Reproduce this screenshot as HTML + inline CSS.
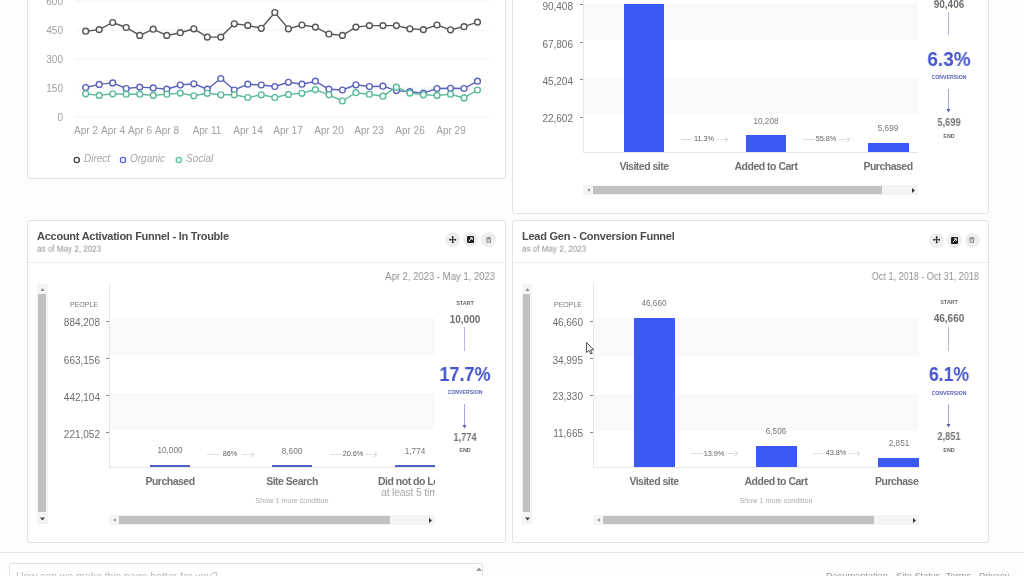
<!DOCTYPE html>
<html><head><meta charset="utf-8"><style>
html,body{margin:0;padding:0;width:1024px;height:576px;overflow:hidden;background:#fdfdfd;font-family:"Liberation Sans", sans-serif;}
.r{position:absolute;}
.t{position:absolute;white-space:nowrap;line-height:1;will-change:transform;}
</style></head><body>
<div class="r" style="left:27px;top:-20px;width:479px;height:199px;border:1px solid #e2e2e2;border-radius:3px;background:#fff;box-sizing:border-box"></div><div class="r" style="left:512px;top:-20px;width:477px;height:234px;border:1px solid #e2e2e2;border-radius:3px;background:#fff;box-sizing:border-box"></div><div class="r" style="left:27px;top:220px;width:479px;height:323px;border:1px solid #e2e2e2;border-radius:3px;background:#fff;box-sizing:border-box"></div><div class="r" style="left:512px;top:220px;width:477px;height:323px;border:1px solid #e2e2e2;border-radius:3px;background:#fff;box-sizing:border-box"></div><svg class="r" style="left:0;top:0" width="1024" height="576"><line x1="76" y1="1" x2="490" y2="1" stroke="#e2e2e2" stroke-width="1" stroke-dasharray="1.3,1.7"/><line x1="76" y1="30" x2="490" y2="30" stroke="#e2e2e2" stroke-width="1" stroke-dasharray="1.3,1.7"/><line x1="76" y1="59" x2="490" y2="59" stroke="#e2e2e2" stroke-width="1" stroke-dasharray="1.3,1.7"/><line x1="76" y1="88" x2="490" y2="88" stroke="#e2e2e2" stroke-width="1" stroke-dasharray="1.3,1.7"/><line x1="76" y1="117" x2="490" y2="117" stroke="#e2e2e2" stroke-width="1" stroke-dasharray="1.3,1.7"/><polyline points="85.7,87.5 99.2,84.4 112.7,82.9 126.2,88.5 139.7,87.1 153.2,87.9 166.8,89.2 180.3,85.0 193.8,83.8 207.3,89.2 220.8,78.5 234.3,90.0 247.8,84.2 261.3,85.0 274.8,86.5 288.4,82.3 301.9,84.2 315.4,81.2 328.9,89.2 342.4,90.0 355.9,84.8 369.4,86.5 382.9,86.2 396.4,90.6 409.9,91.7 423.4,93.1 437.0,88.5 450.5,88.3 464.0,88.5 477.5,81.2" fill="none" stroke="#5c63bd" stroke-width="1.4"/><circle cx="85.7" cy="87.5" r="2.9" fill="#fff" stroke="#5c63bd" stroke-width="1.4"/><circle cx="99.2" cy="84.4" r="2.9" fill="#fff" stroke="#5c63bd" stroke-width="1.4"/><circle cx="112.7" cy="82.9" r="2.9" fill="#fff" stroke="#5c63bd" stroke-width="1.4"/><circle cx="126.2" cy="88.5" r="2.9" fill="#fff" stroke="#5c63bd" stroke-width="1.4"/><circle cx="139.7" cy="87.1" r="2.9" fill="#fff" stroke="#5c63bd" stroke-width="1.4"/><circle cx="153.2" cy="87.9" r="2.9" fill="#fff" stroke="#5c63bd" stroke-width="1.4"/><circle cx="166.8" cy="89.2" r="2.9" fill="#fff" stroke="#5c63bd" stroke-width="1.4"/><circle cx="180.3" cy="85.0" r="2.9" fill="#fff" stroke="#5c63bd" stroke-width="1.4"/><circle cx="193.8" cy="83.8" r="2.9" fill="#fff" stroke="#5c63bd" stroke-width="1.4"/><circle cx="207.3" cy="89.2" r="2.9" fill="#fff" stroke="#5c63bd" stroke-width="1.4"/><circle cx="220.8" cy="78.5" r="2.9" fill="#fff" stroke="#5c63bd" stroke-width="1.4"/><circle cx="234.3" cy="90.0" r="2.9" fill="#fff" stroke="#5c63bd" stroke-width="1.4"/><circle cx="247.8" cy="84.2" r="2.9" fill="#fff" stroke="#5c63bd" stroke-width="1.4"/><circle cx="261.3" cy="85.0" r="2.9" fill="#fff" stroke="#5c63bd" stroke-width="1.4"/><circle cx="274.8" cy="86.5" r="2.9" fill="#fff" stroke="#5c63bd" stroke-width="1.4"/><circle cx="288.4" cy="82.3" r="2.9" fill="#fff" stroke="#5c63bd" stroke-width="1.4"/><circle cx="301.9" cy="84.2" r="2.9" fill="#fff" stroke="#5c63bd" stroke-width="1.4"/><circle cx="315.4" cy="81.2" r="2.9" fill="#fff" stroke="#5c63bd" stroke-width="1.4"/><circle cx="328.9" cy="89.2" r="2.9" fill="#fff" stroke="#5c63bd" stroke-width="1.4"/><circle cx="342.4" cy="90.0" r="2.9" fill="#fff" stroke="#5c63bd" stroke-width="1.4"/><circle cx="355.9" cy="84.8" r="2.9" fill="#fff" stroke="#5c63bd" stroke-width="1.4"/><circle cx="369.4" cy="86.5" r="2.9" fill="#fff" stroke="#5c63bd" stroke-width="1.4"/><circle cx="382.9" cy="86.2" r="2.9" fill="#fff" stroke="#5c63bd" stroke-width="1.4"/><circle cx="396.4" cy="90.6" r="2.9" fill="#fff" stroke="#5c63bd" stroke-width="1.4"/><circle cx="409.9" cy="91.7" r="2.9" fill="#fff" stroke="#5c63bd" stroke-width="1.4"/><circle cx="423.4" cy="93.1" r="2.9" fill="#fff" stroke="#5c63bd" stroke-width="1.4"/><circle cx="437.0" cy="88.5" r="2.9" fill="#fff" stroke="#5c63bd" stroke-width="1.4"/><circle cx="450.5" cy="88.3" r="2.9" fill="#fff" stroke="#5c63bd" stroke-width="1.4"/><circle cx="464.0" cy="88.5" r="2.9" fill="#fff" stroke="#5c63bd" stroke-width="1.4"/><circle cx="477.5" cy="81.2" r="2.9" fill="#fff" stroke="#5c63bd" stroke-width="1.4"/><polyline points="85.7,93.8 99.2,95.4 112.7,93.8 126.2,94.2 139.7,94.2 153.2,95.4 166.8,94.2 180.3,93.1 193.8,95.8 207.3,93.3 220.8,94.8 234.3,94.8 247.8,97.5 261.3,94.8 274.8,97.5 288.4,94.4 301.9,93.3 315.4,89.6 328.9,94.8 342.4,101.0 355.9,92.7 369.4,94.2 382.9,96.2 396.4,87.1 409.9,93.1 423.4,94.8 437.0,95.4 450.5,94.2 464.0,97.9 477.5,90.0" fill="none" stroke="#5bbb9c" stroke-width="1.4"/><circle cx="85.7" cy="93.8" r="2.9" fill="#fff" stroke="#5bbb9c" stroke-width="1.4"/><circle cx="99.2" cy="95.4" r="2.9" fill="#fff" stroke="#5bbb9c" stroke-width="1.4"/><circle cx="112.7" cy="93.8" r="2.9" fill="#fff" stroke="#5bbb9c" stroke-width="1.4"/><circle cx="126.2" cy="94.2" r="2.9" fill="#fff" stroke="#5bbb9c" stroke-width="1.4"/><circle cx="139.7" cy="94.2" r="2.9" fill="#fff" stroke="#5bbb9c" stroke-width="1.4"/><circle cx="153.2" cy="95.4" r="2.9" fill="#fff" stroke="#5bbb9c" stroke-width="1.4"/><circle cx="166.8" cy="94.2" r="2.9" fill="#fff" stroke="#5bbb9c" stroke-width="1.4"/><circle cx="180.3" cy="93.1" r="2.9" fill="#fff" stroke="#5bbb9c" stroke-width="1.4"/><circle cx="193.8" cy="95.8" r="2.9" fill="#fff" stroke="#5bbb9c" stroke-width="1.4"/><circle cx="207.3" cy="93.3" r="2.9" fill="#fff" stroke="#5bbb9c" stroke-width="1.4"/><circle cx="220.8" cy="94.8" r="2.9" fill="#fff" stroke="#5bbb9c" stroke-width="1.4"/><circle cx="234.3" cy="94.8" r="2.9" fill="#fff" stroke="#5bbb9c" stroke-width="1.4"/><circle cx="247.8" cy="97.5" r="2.9" fill="#fff" stroke="#5bbb9c" stroke-width="1.4"/><circle cx="261.3" cy="94.8" r="2.9" fill="#fff" stroke="#5bbb9c" stroke-width="1.4"/><circle cx="274.8" cy="97.5" r="2.9" fill="#fff" stroke="#5bbb9c" stroke-width="1.4"/><circle cx="288.4" cy="94.4" r="2.9" fill="#fff" stroke="#5bbb9c" stroke-width="1.4"/><circle cx="301.9" cy="93.3" r="2.9" fill="#fff" stroke="#5bbb9c" stroke-width="1.4"/><circle cx="315.4" cy="89.6" r="2.9" fill="#fff" stroke="#5bbb9c" stroke-width="1.4"/><circle cx="328.9" cy="94.8" r="2.9" fill="#fff" stroke="#5bbb9c" stroke-width="1.4"/><circle cx="342.4" cy="101.0" r="2.9" fill="#fff" stroke="#5bbb9c" stroke-width="1.4"/><circle cx="355.9" cy="92.7" r="2.9" fill="#fff" stroke="#5bbb9c" stroke-width="1.4"/><circle cx="369.4" cy="94.2" r="2.9" fill="#fff" stroke="#5bbb9c" stroke-width="1.4"/><circle cx="382.9" cy="96.2" r="2.9" fill="#fff" stroke="#5bbb9c" stroke-width="1.4"/><circle cx="396.4" cy="87.1" r="2.9" fill="#fff" stroke="#5bbb9c" stroke-width="1.4"/><circle cx="409.9" cy="93.1" r="2.9" fill="#fff" stroke="#5bbb9c" stroke-width="1.4"/><circle cx="423.4" cy="94.8" r="2.9" fill="#fff" stroke="#5bbb9c" stroke-width="1.4"/><circle cx="437.0" cy="95.4" r="2.9" fill="#fff" stroke="#5bbb9c" stroke-width="1.4"/><circle cx="450.5" cy="94.2" r="2.9" fill="#fff" stroke="#5bbb9c" stroke-width="1.4"/><circle cx="464.0" cy="97.9" r="2.9" fill="#fff" stroke="#5bbb9c" stroke-width="1.4"/><circle cx="477.5" cy="90.0" r="2.9" fill="#fff" stroke="#5bbb9c" stroke-width="1.4"/><polyline points="85.7,31.2 99.2,29.6 112.7,22.5 126.2,27.5 139.7,35.4 153.2,29.2 166.8,35.4 180.3,32.7 193.8,28.8 207.3,37.1 220.8,37.1 234.3,23.8 247.8,25.4 261.3,28.3 274.8,12.5 288.4,28.8 301.9,25.0 315.4,27.1 328.9,34.0 342.4,35.4 355.9,27.1 369.4,25.6 382.9,25.6 396.4,25.6 409.9,28.8 423.4,29.6 437.0,25.0 450.5,29.8 464.0,26.7 477.5,22.1" fill="none" stroke="#555555" stroke-width="1.4"/><circle cx="85.7" cy="31.2" r="2.9" fill="#fff" stroke="#555555" stroke-width="1.4"/><circle cx="99.2" cy="29.6" r="2.9" fill="#fff" stroke="#555555" stroke-width="1.4"/><circle cx="112.7" cy="22.5" r="2.9" fill="#fff" stroke="#555555" stroke-width="1.4"/><circle cx="126.2" cy="27.5" r="2.9" fill="#fff" stroke="#555555" stroke-width="1.4"/><circle cx="139.7" cy="35.4" r="2.9" fill="#fff" stroke="#555555" stroke-width="1.4"/><circle cx="153.2" cy="29.2" r="2.9" fill="#fff" stroke="#555555" stroke-width="1.4"/><circle cx="166.8" cy="35.4" r="2.9" fill="#fff" stroke="#555555" stroke-width="1.4"/><circle cx="180.3" cy="32.7" r="2.9" fill="#fff" stroke="#555555" stroke-width="1.4"/><circle cx="193.8" cy="28.8" r="2.9" fill="#fff" stroke="#555555" stroke-width="1.4"/><circle cx="207.3" cy="37.1" r="2.9" fill="#fff" stroke="#555555" stroke-width="1.4"/><circle cx="220.8" cy="37.1" r="2.9" fill="#fff" stroke="#555555" stroke-width="1.4"/><circle cx="234.3" cy="23.8" r="2.9" fill="#fff" stroke="#555555" stroke-width="1.4"/><circle cx="247.8" cy="25.4" r="2.9" fill="#fff" stroke="#555555" stroke-width="1.4"/><circle cx="261.3" cy="28.3" r="2.9" fill="#fff" stroke="#555555" stroke-width="1.4"/><circle cx="274.8" cy="12.5" r="2.9" fill="#fff" stroke="#555555" stroke-width="1.4"/><circle cx="288.4" cy="28.8" r="2.9" fill="#fff" stroke="#555555" stroke-width="1.4"/><circle cx="301.9" cy="25.0" r="2.9" fill="#fff" stroke="#555555" stroke-width="1.4"/><circle cx="315.4" cy="27.1" r="2.9" fill="#fff" stroke="#555555" stroke-width="1.4"/><circle cx="328.9" cy="34.0" r="2.9" fill="#fff" stroke="#555555" stroke-width="1.4"/><circle cx="342.4" cy="35.4" r="2.9" fill="#fff" stroke="#555555" stroke-width="1.4"/><circle cx="355.9" cy="27.1" r="2.9" fill="#fff" stroke="#555555" stroke-width="1.4"/><circle cx="369.4" cy="25.6" r="2.9" fill="#fff" stroke="#555555" stroke-width="1.4"/><circle cx="382.9" cy="25.6" r="2.9" fill="#fff" stroke="#555555" stroke-width="1.4"/><circle cx="396.4" cy="25.6" r="2.9" fill="#fff" stroke="#555555" stroke-width="1.4"/><circle cx="409.9" cy="28.8" r="2.9" fill="#fff" stroke="#555555" stroke-width="1.4"/><circle cx="423.4" cy="29.6" r="2.9" fill="#fff" stroke="#555555" stroke-width="1.4"/><circle cx="437.0" cy="25.0" r="2.9" fill="#fff" stroke="#555555" stroke-width="1.4"/><circle cx="450.5" cy="29.8" r="2.9" fill="#fff" stroke="#555555" stroke-width="1.4"/><circle cx="464.0" cy="26.7" r="2.9" fill="#fff" stroke="#555555" stroke-width="1.4"/><circle cx="477.5" cy="22.1" r="2.9" fill="#fff" stroke="#555555" stroke-width="1.4"/></svg><div class="t" style="left:63px;top:1.8px;font-size:10px;color:#a0a0a0;font-weight:normal;font-style:normal;letter-spacing:0px;transform:translate(-100%,-50%) scaleX(1);transform-origin:100% 50%;">600</div><div class="t" style="left:63px;top:30.8px;font-size:10px;color:#a0a0a0;font-weight:normal;font-style:normal;letter-spacing:0px;transform:translate(-100%,-50%) scaleX(1);transform-origin:100% 50%;">450</div><div class="t" style="left:63px;top:59.8px;font-size:10px;color:#a0a0a0;font-weight:normal;font-style:normal;letter-spacing:0px;transform:translate(-100%,-50%) scaleX(1);transform-origin:100% 50%;">300</div><div class="t" style="left:63px;top:88.8px;font-size:10px;color:#a0a0a0;font-weight:normal;font-style:normal;letter-spacing:0px;transform:translate(-100%,-50%) scaleX(1);transform-origin:100% 50%;">150</div><div class="t" style="left:63px;top:117.8px;font-size:10px;color:#a0a0a0;font-weight:normal;font-style:normal;letter-spacing:0px;transform:translate(-100%,-50%) scaleX(1);transform-origin:100% 50%;">0</div><div class="t" style="left:85.7px;top:130.8px;font-size:10px;color:#a0a0a0;font-weight:normal;font-style:normal;letter-spacing:0px;transform:translate(-50%,-50%) scaleX(1);transform-origin:50% 50%;">Apr 2</div><div class="t" style="left:112.7px;top:130.8px;font-size:10px;color:#a0a0a0;font-weight:normal;font-style:normal;letter-spacing:0px;transform:translate(-50%,-50%) scaleX(1);transform-origin:50% 50%;">Apr 4</div><div class="t" style="left:139.7px;top:130.8px;font-size:10px;color:#a0a0a0;font-weight:normal;font-style:normal;letter-spacing:0px;transform:translate(-50%,-50%) scaleX(1);transform-origin:50% 50%;">Apr 6</div><div class="t" style="left:166.8px;top:130.8px;font-size:10px;color:#a0a0a0;font-weight:normal;font-style:normal;letter-spacing:0px;transform:translate(-50%,-50%) scaleX(1);transform-origin:50% 50%;">Apr 8</div><div class="t" style="left:207.3px;top:130.8px;font-size:10px;color:#a0a0a0;font-weight:normal;font-style:normal;letter-spacing:0px;transform:translate(-50%,-50%) scaleX(1);transform-origin:50% 50%;">Apr 11</div><div class="t" style="left:247.8px;top:130.8px;font-size:10px;color:#a0a0a0;font-weight:normal;font-style:normal;letter-spacing:0px;transform:translate(-50%,-50%) scaleX(1);transform-origin:50% 50%;">Apr 14</div><div class="t" style="left:288.4px;top:130.8px;font-size:10px;color:#a0a0a0;font-weight:normal;font-style:normal;letter-spacing:0px;transform:translate(-50%,-50%) scaleX(1);transform-origin:50% 50%;">Apr 17</div><div class="t" style="left:328.9px;top:130.8px;font-size:10px;color:#a0a0a0;font-weight:normal;font-style:normal;letter-spacing:0px;transform:translate(-50%,-50%) scaleX(1);transform-origin:50% 50%;">Apr 20</div><div class="t" style="left:369.4px;top:130.8px;font-size:10px;color:#a0a0a0;font-weight:normal;font-style:normal;letter-spacing:0px;transform:translate(-50%,-50%) scaleX(1);transform-origin:50% 50%;">Apr 23</div><div class="t" style="left:409.9px;top:130.8px;font-size:10px;color:#a0a0a0;font-weight:normal;font-style:normal;letter-spacing:0px;transform:translate(-50%,-50%) scaleX(1);transform-origin:50% 50%;">Apr 26</div><div class="t" style="left:450.5px;top:130.8px;font-size:10px;color:#a0a0a0;font-weight:normal;font-style:normal;letter-spacing:0px;transform:translate(-50%,-50%) scaleX(1);transform-origin:50% 50%;">Apr 29</div><svg class="r" style="left:0;top:150px" width="240" height="20"><circle cx="76.8" cy="10" r="2.6" fill="none" stroke="#444" stroke-width="1.3"/><circle cx="123" cy="10" r="2.6" fill="none" stroke="#5a62c4" stroke-width="1.3"/><circle cx="178.8" cy="10" r="2.6" fill="none" stroke="#5bbfa0" stroke-width="1.3"/></svg><div class="t" style="left:83.5px;top:158.5px;font-size:10px;color:#a6a6a6;font-weight:normal;font-style:italic;letter-spacing:0px;transform:translate(0,-50%) scaleX(1);transform-origin:0 50%;">Direct</div><div class="t" style="left:130px;top:158.5px;font-size:10px;color:#a6a6a6;font-weight:normal;font-style:italic;letter-spacing:0px;transform:translate(0,-50%) scaleX(1);transform-origin:0 50%;">Organic</div><div class="t" style="left:185.5px;top:158.5px;font-size:10px;color:#a6a6a6;font-weight:normal;font-style:italic;letter-spacing:0px;transform:translate(0,-50%) scaleX(1);transform-origin:0 50%;">Social</div><div class="r" style="left:583px;top:3.5px;width:335px;height:36.5px;background:#f9f9f9;"></div><div class="r" style="left:583px;top:77.5px;width:335px;height:36.5px;background:#f9f9f9;"></div><div class="r" style="left:583px;top:-10px;width:1px;height:162px;background:#e6e6e6;"></div><div class="r" style="left:583px;top:152px;width:335px;height:1px;background:#e6e6e6;"></div><div class="r" style="left:580px;top:4.3px;width:3px;height:1px;background:#888;"></div><div class="t" style="left:573px;top:6.7px;font-size:10px;color:#6e6e6e;font-weight:normal;font-style:normal;letter-spacing:0px;transform:translate(-100%,-50%) scaleX(1);transform-origin:100% 50%;">90,408</div><div class="r" style="left:580px;top:42.3px;width:3px;height:1px;background:#888;"></div><div class="t" style="left:573px;top:44.7px;font-size:10px;color:#6e6e6e;font-weight:normal;font-style:normal;letter-spacing:0px;transform:translate(-100%,-50%) scaleX(1);transform-origin:100% 50%;">67,806</div><div class="r" style="left:580px;top:79.3px;width:3px;height:1px;background:#888;"></div><div class="t" style="left:573px;top:81.7px;font-size:10px;color:#6e6e6e;font-weight:normal;font-style:normal;letter-spacing:0px;transform:translate(-100%,-50%) scaleX(1);transform-origin:100% 50%;">45,204</div><div class="r" style="left:580px;top:116.8px;width:3px;height:1px;background:#888;"></div><div class="t" style="left:573px;top:119.2px;font-size:10px;color:#6e6e6e;font-weight:normal;font-style:normal;letter-spacing:0px;transform:translate(-100%,-50%) scaleX(1);transform-origin:100% 50%;">22,602</div><div class="r" style="left:624px;top:3.5px;width:40px;height:148.5px;background:#3a59f5;"></div><div class="r" style="left:746px;top:135px;width:40px;height:17px;background:#3a59f5;"></div><div class="r" style="left:868px;top:142.5px;width:41px;height:9.5px;background:#3a59f5;"></div><div class="t" style="left:766px;top:121.8px;font-size:8.2px;color:#777;font-weight:normal;font-style:normal;letter-spacing:0px;transform:translate(-50%,-50%) scaleX(1);transform-origin:50% 50%;">10,208</div><div class="t" style="left:888px;top:128.8px;font-size:8.2px;color:#777;font-weight:normal;font-style:normal;letter-spacing:0px;transform:translate(-50%,-50%) scaleX(1);transform-origin:50% 50%;">5,699</div><div class="r" style="left:681px;top:139px;width:12px;height:1px;background:#e0e0e0;"></div><div class="r" style="left:716px;top:139px;width:11px;height:1px;background:#e0e0e0;"></div><svg class="r" style="left:725px;top:137px" width="4" height="5"><path d="M0,0 L3,2.5 L0,5" fill="none" stroke="#c8c8c8" stroke-width="0.8"/></svg><div class="t" style="left:704px;top:139.3px;font-size:7.3px;color:#5e5e5e;font-weight:normal;font-style:normal;letter-spacing:0px;transform:translate(-50%,-50%) scaleX(1);transform-origin:50% 50%;">11.3%</div><div class="r" style="left:803px;top:139px;width:12px;height:1px;background:#e0e0e0;"></div><div class="r" style="left:838px;top:139px;width:11px;height:1px;background:#e0e0e0;"></div><svg class="r" style="left:847px;top:137px" width="4" height="5"><path d="M0,0 L3,2.5 L0,5" fill="none" stroke="#c8c8c8" stroke-width="0.8"/></svg><div class="t" style="left:826px;top:139.3px;font-size:7.3px;color:#5e5e5e;font-weight:normal;font-style:normal;letter-spacing:0px;transform:translate(-50%,-50%) scaleX(1);transform-origin:50% 50%;">55.8%</div><div class="t" style="left:643.5px;top:166.3px;font-size:10.5px;color:#707070;font-weight:bold;font-style:normal;letter-spacing:0px;transform:translate(-50%,-50%) scaleX(1);transform-origin:50% 50%;letter-spacing:-0.5px">Visited site</div><div class="t" style="left:766px;top:166.3px;font-size:10.5px;color:#707070;font-weight:bold;font-style:normal;letter-spacing:0px;transform:translate(-50%,-50%) scaleX(1);transform-origin:50% 50%;letter-spacing:-0.5px">Added to Cart</div><div class="t" style="left:888px;top:166.3px;font-size:10.5px;color:#707070;font-weight:bold;font-style:normal;letter-spacing:0px;transform:translate(-50%,-50%) scaleX(1);transform-origin:50% 50%;letter-spacing:-0.5px">Purchased</div><div class="t" style="left:949px;top:5.2px;font-size:10px;color:#6e6e6e;font-weight:bold;font-style:normal;letter-spacing:0px;transform:translate(-50%,-50%) scaleX(1);transform-origin:50% 50%;">90,406</div><div class="r" style="left:948px;top:11.5px;width:1px;height:23.5px;background:#b4b8e4;"></div><div class="t" style="left:949px;top:58.5px;font-size:20px;color:#4455cc;font-weight:bold;font-style:normal;letter-spacing:0px;transform:translate(-50%,-50%) scaleX(0.95);transform-origin:50% 50%;">6.3%</div><div class="t" style="left:949px;top:78.0px;font-size:5.2px;color:#5b63b8;font-weight:bold;font-style:normal;letter-spacing:0px;transform:translate(-50%,-50%) scaleX(1);transform-origin:50% 50%;">CONVERSION</div><div class="r" style="left:948px;top:89px;width:1px;height:21px;background:#a4a9dc;"></div><svg class="r" style="left:946px;top:108.5px" width="5" height="4"><path d="M0.5,0 L4.5,0 L2.5,3.5 Z" fill="#5c60b4"/></svg><div class="t" style="left:949px;top:122.5px;font-size:10px;color:#737373;font-weight:bold;font-style:normal;letter-spacing:0px;transform:translate(-50%,-50%) scaleX(0.92);transform-origin:50% 50%;">5,699</div><div class="t" style="left:949px;top:136.5px;font-size:5.4px;color:#666;font-weight:bold;font-style:normal;letter-spacing:0px;transform:translate(-50%,-50%) scaleX(1);transform-origin:50% 50%;">END</div><div class="r" style="left:583px;top:184.8px;width:335px;height:10.4px;background:#f4f4f4;"></div><div class="r" style="left:593px;top:186px;width:289px;height:8px;background:#c1c1c1;"></div><svg class="r" style="left:586.5px;top:188px" width="4" height="5"><path d="M2.8,0.3 L0.3,2 L2.8,3.7 Z" fill="#888"/></svg><svg class="r" style="left:912px;top:187.5px" width="4" height="5"><path d="M0,0 L3,2.5 L0,5 Z" fill="#333"/></svg><div class="r" style="left:109px;top:318px;width:326px;height:37px;background:#f9f9f9;"></div><div class="r" style="left:109px;top:392.5px;width:326px;height:37.5px;background:#f9f9f9;"></div><div class="r" style="left:109px;top:283px;width:1px;height:184px;background:#e6e6e6;"></div><div class="r" style="left:109px;top:467px;width:326px;height:1px;background:#e6e6e6;"></div><div class="r" style="left:106px;top:320.8px;width:3px;height:1px;background:#888;"></div><div class="t" style="left:100px;top:323.2px;font-size:10px;color:#6e6e6e;font-weight:normal;font-style:normal;letter-spacing:0px;transform:translate(-100%,-50%) scaleX(1);transform-origin:100% 50%;">884,208</div><div class="r" style="left:106px;top:358.3px;width:3px;height:1px;background:#888;"></div><div class="t" style="left:100px;top:360.7px;font-size:10px;color:#6e6e6e;font-weight:normal;font-style:normal;letter-spacing:0px;transform:translate(-100%,-50%) scaleX(1);transform-origin:100% 50%;">663,156</div><div class="r" style="left:106px;top:395.3px;width:3px;height:1px;background:#888;"></div><div class="t" style="left:100px;top:397.7px;font-size:10px;color:#6e6e6e;font-weight:normal;font-style:normal;letter-spacing:0px;transform:translate(-100%,-50%) scaleX(1);transform-origin:100% 50%;">442,104</div><div class="r" style="left:106px;top:432.3px;width:3px;height:1px;background:#888;"></div><div class="t" style="left:100px;top:434.7px;font-size:10px;color:#6e6e6e;font-weight:normal;font-style:normal;letter-spacing:0px;transform:translate(-100%,-50%) scaleX(1);transform-origin:100% 50%;">221,052</div><div class="r" style="left:150px;top:465px;width:40px;height:2px;background:#4f61c2;"></div><div class="r" style="left:272px;top:465px;width:40px;height:2px;background:#4f61c2;"></div><div class="r" style="left:395px;top:465px;width:40px;height:2px;background:#4f61c2;"></div><div class="t" style="left:170px;top:451.3px;font-size:8.2px;color:#777;font-weight:normal;font-style:normal;letter-spacing:0px;transform:translate(-50%,-50%) scaleX(1);transform-origin:50% 50%;">10,000</div><div class="t" style="left:292px;top:451.8px;font-size:8.2px;color:#777;font-weight:normal;font-style:normal;letter-spacing:0px;transform:translate(-50%,-50%) scaleX(1);transform-origin:50% 50%;">8,600</div><div class="t" style="left:414.5px;top:451.8px;font-size:8.2px;color:#777;font-weight:normal;font-style:normal;letter-spacing:0px;transform:translate(-50%,-50%) scaleX(1);transform-origin:50% 50%;">1,774</div><div class="r" style="left:207px;top:454px;width:12px;height:1px;background:#e0e0e0;"></div><div class="r" style="left:242px;top:454px;width:11px;height:1px;background:#e0e0e0;"></div><svg class="r" style="left:251px;top:452px" width="4" height="5"><path d="M0,0 L3,2.5 L0,5" fill="none" stroke="#c8c8c8" stroke-width="0.8"/></svg><div class="t" style="left:230px;top:454.3px;font-size:7.3px;color:#5e5e5e;font-weight:normal;font-style:normal;letter-spacing:0px;transform:translate(-50%,-50%) scaleX(1);transform-origin:50% 50%;">86%</div><div class="r" style="left:329.5px;top:454px;width:12px;height:1px;background:#e0e0e0;"></div><div class="r" style="left:364.5px;top:454px;width:11px;height:1px;background:#e0e0e0;"></div><svg class="r" style="left:373.5px;top:452px" width="4" height="5"><path d="M0,0 L3,2.5 L0,5" fill="none" stroke="#c8c8c8" stroke-width="0.8"/></svg><div class="t" style="left:352.5px;top:454.3px;font-size:7.3px;color:#5e5e5e;font-weight:normal;font-style:normal;letter-spacing:0px;transform:translate(-50%,-50%) scaleX(1);transform-origin:50% 50%;">20.6%</div><div class="t" style="left:170px;top:481.3px;font-size:10.5px;color:#707070;font-weight:bold;font-style:normal;letter-spacing:0px;transform:translate(-50%,-50%) scaleX(1);transform-origin:50% 50%;letter-spacing:-0.5px">Purchased</div><div class="t" style="left:292px;top:481.3px;font-size:10.5px;color:#707070;font-weight:bold;font-style:normal;letter-spacing:0px;transform:translate(-50%,-50%) scaleX(1);transform-origin:50% 50%;letter-spacing:-0.5px">Site Search</div><div class="t" style="left:465px;top:303.8px;font-size:5.4px;color:#666;font-weight:bold;font-style:normal;letter-spacing:0px;transform:translate(-50%,-50%) scaleX(1);transform-origin:50% 50%;">START</div><div class="t" style="left:465px;top:319.7px;font-size:10px;color:#6e6e6e;font-weight:bold;font-style:normal;letter-spacing:0px;transform:translate(-50%,-50%) scaleX(1);transform-origin:50% 50%;">10,000</div><div class="r" style="left:464px;top:326.5px;width:1px;height:24.0px;background:#b4b8e4;"></div><div class="t" style="left:465px;top:373.5px;font-size:20px;color:#4455cc;font-weight:bold;font-style:normal;letter-spacing:0px;transform:translate(-50%,-50%) scaleX(0.9);transform-origin:50% 50%;">17.7%</div><div class="t" style="left:465px;top:393.0px;font-size:5.2px;color:#5b63b8;font-weight:bold;font-style:normal;letter-spacing:0px;transform:translate(-50%,-50%) scaleX(1);transform-origin:50% 50%;">CONVERSION</div><div class="r" style="left:464px;top:403.5px;width:1px;height:22.5px;background:#a4a9dc;"></div><svg class="r" style="left:462px;top:424.5px" width="5" height="4"><path d="M0.5,0 L4.5,0 L2.5,3.5 Z" fill="#5c60b4"/></svg><div class="t" style="left:465px;top:438.0px;font-size:10px;color:#737373;font-weight:bold;font-style:normal;letter-spacing:0px;transform:translate(-50%,-50%) scaleX(0.92);transform-origin:50% 50%;">1,774</div><div class="t" style="left:465px;top:451.3px;font-size:5.4px;color:#666;font-weight:bold;font-style:normal;letter-spacing:0px;transform:translate(-50%,-50%) scaleX(1);transform-origin:50% 50%;">END</div><div class="r" style="left:109px;top:514.8px;width:326px;height:9.9px;background:#f4f4f4;"></div><div class="r" style="left:119px;top:516px;width:271px;height:7.5px;background:#c1c1c1;"></div><svg class="r" style="left:112.5px;top:518px" width="4" height="5"><path d="M2.8,0.3 L0.3,2 L2.8,3.7 Z" fill="#888"/></svg><svg class="r" style="left:429px;top:517.5px" width="4" height="5"><path d="M0,0 L3,2.5 L0,5 Z" fill="#333"/></svg><div class="r" style="left:37px;top:284px;width:11px;height:240px;background:#f4f4f4;"></div><div class="r" style="left:38.3px;top:294px;width:7.8px;height:218px;background:#c1c1c1;"></div><svg class="r" style="left:40.0px;top:288px" width="5" height="4"><path d="M0.5,2.8 L2.5,0.3 L4.5,2.8 Z" fill="#777"/></svg><svg class="r" style="left:40.0px;top:516.5px" width="5" height="4"><path d="M0,0.5 L2.5,3.5 L5,0.5 Z" fill="#444"/></svg><div class="t" style="left:292px;top:500.7px;font-size:7.2px;color:#ababab;font-weight:normal;font-style:normal;letter-spacing:0px;transform:translate(-50%,-50%) scaleX(1);transform-origin:50% 50%;">Show 1 more condition</div><div class="t" style="left:84px;top:304px;font-size:7px;color:#777;font-weight:normal;font-style:normal;letter-spacing:0px;transform:translate(-50%,-50%) scaleX(1);transform-origin:50% 50%;">PEOPLE</div><div class="r" style="left:370px;top:470px;width:65px;height:30px;overflow:hidden"><div class="t" style="left:8.4px;top:11px;font-size:10.5px;color:#707070;font-weight:bold;letter-spacing:-0.5px;transform:translate(0,-50%)">Did not do Login</div><div class="t" style="left:11px;top:21.5px;font-size:10.5px;color:#a8a8a8;letter-spacing:-0.2px;transform:translate(0,-50%)">at least 5 times</div></div><div class="r" style="left:593px;top:318px;width:325.5px;height:37.5px;background:#f9f9f9;"></div><div class="r" style="left:593px;top:393.5px;width:325.5px;height:37.0px;background:#f9f9f9;"></div><div class="r" style="left:593px;top:283px;width:1px;height:184px;background:#e6e6e6;"></div><div class="r" style="left:593px;top:467px;width:325.5px;height:1px;background:#e6e6e6;"></div><div class="r" style="left:590px;top:320.8px;width:3px;height:1px;background:#888;"></div><div class="t" style="left:583px;top:323.2px;font-size:10px;color:#6e6e6e;font-weight:normal;font-style:normal;letter-spacing:0px;transform:translate(-100%,-50%) scaleX(1);transform-origin:100% 50%;">46,660</div><div class="r" style="left:590px;top:358.1px;width:3px;height:1px;background:#888;"></div><div class="t" style="left:583px;top:360.5px;font-size:10px;color:#6e6e6e;font-weight:normal;font-style:normal;letter-spacing:0px;transform:translate(-100%,-50%) scaleX(1);transform-origin:100% 50%;">34,995</div><div class="r" style="left:590px;top:394.8px;width:3px;height:1px;background:#888;"></div><div class="t" style="left:583px;top:397.2px;font-size:10px;color:#6e6e6e;font-weight:normal;font-style:normal;letter-spacing:0px;transform:translate(-100%,-50%) scaleX(1);transform-origin:100% 50%;">23,330</div><div class="r" style="left:590px;top:431.8px;width:3px;height:1px;background:#888;"></div><div class="t" style="left:583px;top:434.2px;font-size:10px;color:#6e6e6e;font-weight:normal;font-style:normal;letter-spacing:0px;transform:translate(-100%,-50%) scaleX(1);transform-origin:100% 50%;">11,665</div><div class="r" style="left:634px;top:318px;width:41px;height:149px;background:#3a59f5;"></div><div class="r" style="left:756px;top:446.3px;width:41px;height:20.69999999999999px;background:#3a59f5;"></div><div class="r" style="left:878px;top:458px;width:40.5px;height:9px;background:#3a59f5;"></div><div class="t" style="left:654px;top:304.3px;font-size:8.2px;color:#777;font-weight:normal;font-style:normal;letter-spacing:0px;transform:translate(-50%,-50%) scaleX(1);transform-origin:50% 50%;">46,660</div><div class="t" style="left:776px;top:432.1px;font-size:8.2px;color:#777;font-weight:normal;font-style:normal;letter-spacing:0px;transform:translate(-50%,-50%) scaleX(1);transform-origin:50% 50%;">6,506</div><div class="t" style="left:898.7px;top:443.8px;font-size:8.2px;color:#777;font-weight:normal;font-style:normal;letter-spacing:0px;transform:translate(-50%,-50%) scaleX(1);transform-origin:50% 50%;">2,851</div><div class="r" style="left:691.3px;top:453.2px;width:12px;height:1px;background:#e0e0e0;"></div><div class="r" style="left:726.3px;top:453.2px;width:11px;height:1px;background:#e0e0e0;"></div><svg class="r" style="left:735.3px;top:451.2px" width="4" height="5"><path d="M0,0 L3,2.5 L0,5" fill="none" stroke="#c8c8c8" stroke-width="0.8"/></svg><div class="t" style="left:714.3px;top:453.5px;font-size:7.3px;color:#5e5e5e;font-weight:normal;font-style:normal;letter-spacing:0px;transform:translate(-50%,-50%) scaleX(1);transform-origin:50% 50%;">13.9%</div><div class="r" style="left:813px;top:453px;width:12px;height:1px;background:#e0e0e0;"></div><div class="r" style="left:848px;top:453px;width:11px;height:1px;background:#e0e0e0;"></div><svg class="r" style="left:857px;top:451px" width="4" height="5"><path d="M0,0 L3,2.5 L0,5" fill="none" stroke="#c8c8c8" stroke-width="0.8"/></svg><div class="t" style="left:836px;top:453.3px;font-size:7.3px;color:#5e5e5e;font-weight:normal;font-style:normal;letter-spacing:0px;transform:translate(-50%,-50%) scaleX(1);transform-origin:50% 50%;">43.8%</div><div class="t" style="left:653.6px;top:481.3px;font-size:10.5px;color:#707070;font-weight:bold;font-style:normal;letter-spacing:0px;transform:translate(-50%,-50%) scaleX(1);transform-origin:50% 50%;letter-spacing:-0.5px">Visited site</div><div class="t" style="left:776px;top:481.3px;font-size:10.5px;color:#707070;font-weight:bold;font-style:normal;letter-spacing:0px;transform:translate(-50%,-50%) scaleX(1);transform-origin:50% 50%;letter-spacing:-0.5px">Added to Cart</div><div class="t" style="left:949px;top:303.40000000000003px;font-size:5.4px;color:#666;font-weight:bold;font-style:normal;letter-spacing:0px;transform:translate(-50%,-50%) scaleX(1);transform-origin:50% 50%;">START</div><div class="t" style="left:949px;top:319.3px;font-size:10px;color:#6e6e6e;font-weight:bold;font-style:normal;letter-spacing:0px;transform:translate(-50%,-50%) scaleX(1);transform-origin:50% 50%;">46,660</div><div class="r" style="left:948px;top:326.5px;width:1px;height:24.0px;background:#b4b8e4;"></div><div class="t" style="left:949px;top:374px;font-size:20px;color:#4455cc;font-weight:bold;font-style:normal;letter-spacing:0px;transform:translate(-50%,-50%) scaleX(0.88);transform-origin:50% 50%;">6.1%</div><div class="t" style="left:949px;top:393.5px;font-size:5.2px;color:#5b63b8;font-weight:bold;font-style:normal;letter-spacing:0px;transform:translate(-50%,-50%) scaleX(1);transform-origin:50% 50%;">CONVERSION</div><div class="r" style="left:948px;top:403.8px;width:1px;height:21.899999999999977px;background:#a4a9dc;"></div><svg class="r" style="left:946px;top:424.2px" width="5" height="4"><path d="M0.5,0 L4.5,0 L2.5,3.5 Z" fill="#5c60b4"/></svg><div class="t" style="left:949px;top:437.0px;font-size:10px;color:#737373;font-weight:bold;font-style:normal;letter-spacing:0px;transform:translate(-50%,-50%) scaleX(0.92);transform-origin:50% 50%;">2,851</div><div class="t" style="left:949px;top:451px;font-size:5.4px;color:#666;font-weight:bold;font-style:normal;letter-spacing:0px;transform:translate(-50%,-50%) scaleX(1);transform-origin:50% 50%;">END</div><div class="r" style="left:593px;top:515.0px;width:325.5px;height:9.99999999999991px;background:#f4f4f4;"></div><div class="r" style="left:603px;top:516.2px;width:271px;height:7.599999999999909px;background:#c1c1c1;"></div><svg class="r" style="left:596.5px;top:518.2px" width="4" height="5"><path d="M2.8,0.3 L0.3,2 L2.8,3.7 Z" fill="#888"/></svg><svg class="r" style="left:912.5px;top:517.7px" width="4" height="5"><path d="M0,0 L3,2.5 L0,5 Z" fill="#333"/></svg><div class="r" style="left:522px;top:284px;width:10px;height:240px;background:#f4f4f4;"></div><div class="r" style="left:523.3px;top:294px;width:6.8px;height:218px;background:#c1c1c1;"></div><svg class="r" style="left:524.5px;top:288px" width="5" height="4"><path d="M0.5,2.8 L2.5,0.3 L4.5,2.8 Z" fill="#777"/></svg><svg class="r" style="left:524.5px;top:516.5px" width="5" height="4"><path d="M0,0.5 L2.5,3.5 L5,0.5 Z" fill="#444"/></svg><div class="t" style="left:776px;top:500.5px;font-size:7.2px;color:#ababab;font-weight:normal;font-style:normal;letter-spacing:0px;transform:translate(-50%,-50%) scaleX(1);transform-origin:50% 50%;">Show 1 more condition</div><div class="t" style="left:568px;top:304px;font-size:7px;color:#777;font-weight:normal;font-style:normal;letter-spacing:0px;transform:translate(-50%,-50%) scaleX(1);transform-origin:50% 50%;">PEOPLE</div><div class="r" style="left:860px;top:470px;width:58.5px;height:22px;overflow:hidden"><div class="t" style="left:15px;top:11px;font-size:10.5px;color:#707070;font-weight:bold;letter-spacing:-0.5px;transform:translate(0,-50%)">Purchased</div></div><div class="t" style="left:37px;top:235.5px;font-size:11px;color:#4d4d4d;font-weight:bold;font-style:normal;letter-spacing:-0.25px;transform:translate(0,-50%) scaleX(1);transform-origin:0 50%;">Account Activation Funnel - In Trouble</div><div class="t" style="left:37px;top:248.7px;font-size:8.5px;color:#909090;font-weight:normal;font-style:normal;letter-spacing:0px;transform:translate(0,-50%) scaleX(0.95);transform-origin:0 50%;">as of May 2, 2023</div><div class="r" style="left:28px;top:261.5px;width:476px;height:1px;background:#ececec;"></div><div class="t" style="left:495px;top:277px;font-size:10px;color:#919191;font-weight:normal;font-style:normal;letter-spacing:0px;transform:translate(-100%,-50%) scaleX(0.95);transform-origin:100% 50%;">Apr 2, 2023 - May 1, 2023</div><div class="t" style="left:522px;top:235.5px;font-size:11px;color:#4d4d4d;font-weight:bold;font-style:normal;letter-spacing:-0.25px;transform:translate(0,-50%) scaleX(1);transform-origin:0 50%;">Lead Gen - Conversion Funnel</div><div class="t" style="left:522px;top:248.7px;font-size:8.5px;color:#909090;font-weight:normal;font-style:normal;letter-spacing:0px;transform:translate(0,-50%) scaleX(0.95);transform-origin:0 50%;">as of May 2, 2023</div><div class="r" style="left:513px;top:261.5px;width:475px;height:1px;background:#ececec;"></div><div class="t" style="left:979px;top:277px;font-size:10px;color:#919191;font-weight:normal;font-style:normal;letter-spacing:0px;transform:translate(-100%,-50%) scaleX(0.91);transform-origin:100% 50%;">Oct 1, 2018 - Oct 31, 2018</div><div class="r" style="left:445.3px;top:232.0px;width:15px;height:15px;border-radius:50%;background:#eeeeee"></div><div class="r" style="left:463.0px;top:232.0px;width:15px;height:15px;border-radius:50%;background:#eeeeee"></div><div class="r" style="left:481.0px;top:232.0px;width:15px;height:15px;border-radius:50%;background:#eeeeee"></div><svg class="r" style="left:449.05px;top:235.75px" width="7.5" height="7.5"><path d="M3.75,0.5 V7 M0.5,3.75 H7" stroke="#222" stroke-width="1.1"/><path d="M3.75,0 L2.4,1.5 H5.1Z M3.75,7.5 L2.4,6 H5.1Z M0,3.75 L1.5,2.4 V5.1Z M7.5,3.75 L6,2.4 V5.1Z" fill="#222"/></svg><svg class="r" style="left:467.0px;top:236.0px" width="7" height="7"><rect x="0" y="0" width="7" height="7" rx="1" fill="#222"/><path d="M1.8,5.2 L5.2,1.8 M3,1.8 H5.2 V4" stroke="#fff" stroke-width="1"/></svg><svg class="r" style="left:485.75px;top:236.5px" width="5.5" height="6"><path d="M0,1 H5.5 M2,1 V0.2 H3.5 V1" stroke="#777" stroke-width="0.8" fill="none"/><path d="M0.8,1.8 L1.1,5.8 H4.4 L4.7,1.8 Z" fill="none" stroke="#777" stroke-width="0.8"/><path d="M2.2,2.5 V5 M3.3,2.5 V5" stroke="#999" stroke-width="0.5"/></svg><div class="r" style="left:929.0px;top:232.5px;width:15px;height:15px;border-radius:50%;background:#eeeeee"></div><div class="r" style="left:947.1px;top:232.5px;width:15px;height:15px;border-radius:50%;background:#eeeeee"></div><div class="r" style="left:964.5px;top:232.5px;width:15px;height:15px;border-radius:50%;background:#eeeeee"></div><svg class="r" style="left:932.75px;top:236.25px" width="7.5" height="7.5"><path d="M3.75,0.5 V7 M0.5,3.75 H7" stroke="#222" stroke-width="1.1"/><path d="M3.75,0 L2.4,1.5 H5.1Z M3.75,7.5 L2.4,6 H5.1Z M0,3.75 L1.5,2.4 V5.1Z M7.5,3.75 L6,2.4 V5.1Z" fill="#222"/></svg><svg class="r" style="left:951.1px;top:236.5px" width="7" height="7"><rect x="0" y="0" width="7" height="7" rx="1" fill="#222"/><path d="M1.8,5.2 L5.2,1.8 M3,1.8 H5.2 V4" stroke="#fff" stroke-width="1"/></svg><svg class="r" style="left:969.25px;top:237px" width="5.5" height="6"><path d="M0,1 H5.5 M2,1 V0.2 H3.5 V1" stroke="#777" stroke-width="0.8" fill="none"/><path d="M0.8,1.8 L1.1,5.8 H4.4 L4.7,1.8 Z" fill="none" stroke="#777" stroke-width="0.8"/><path d="M2.2,2.5 V5 M3.3,2.5 V5" stroke="#999" stroke-width="0.5"/></svg><svg class="r" style="left:586px;top:342px" width="10" height="14"><path d="M0.5,0.5 L0.5,10.5 L3,8.3 L4.8,12 L6.2,11.4 L4.5,7.8 L7.8,7.8 Z" fill="#fff" stroke="#555" stroke-width="1"/></svg><div class="r" style="left:0px;top:552px;width:1024px;height:1.2px;background:#e6e6e6;"></div><div class="r" style="left:9px;top:563px;width:474px;height:30px;border:1px solid #e2e2e2;border-radius:2px;box-sizing:border-box;background:#fff"></div><div class="t" style="left:16px;top:576px;font-size:10.5px;color:#bdbdbd;font-weight:normal;font-style:normal;letter-spacing:0px;transform:translate(0,-50%) scaleX(1);transform-origin:0 50%;">How can we make this page better for you?</div><svg class="r" style="left:475.5px;top:567px" width="6" height="5"><path d="M0,4 L3,0.5 L6,4 Z" fill="#999"/></svg><div class="t" style="left:826px;top:577px;font-size:9.2px;color:#999;font-weight:normal;font-style:normal;letter-spacing:0px;transform:translate(0,-50%) scaleX(1);transform-origin:0 50%;">Documentation</div><div class="t" style="left:896px;top:577px;font-size:9.2px;color:#999;font-weight:normal;font-style:normal;letter-spacing:0px;transform:translate(0,-50%) scaleX(1);transform-origin:0 50%;">Site Status</div><div class="t" style="left:946px;top:577px;font-size:9.2px;color:#999;font-weight:normal;font-style:normal;letter-spacing:0px;transform:translate(0,-50%) scaleX(1);transform-origin:0 50%;">Terms</div><div class="t" style="left:978.5px;top:577px;font-size:9.2px;color:#999;font-weight:normal;font-style:normal;letter-spacing:0px;transform:translate(0,-50%) scaleX(1);transform-origin:0 50%;">Privacy</div>
</body></html>
